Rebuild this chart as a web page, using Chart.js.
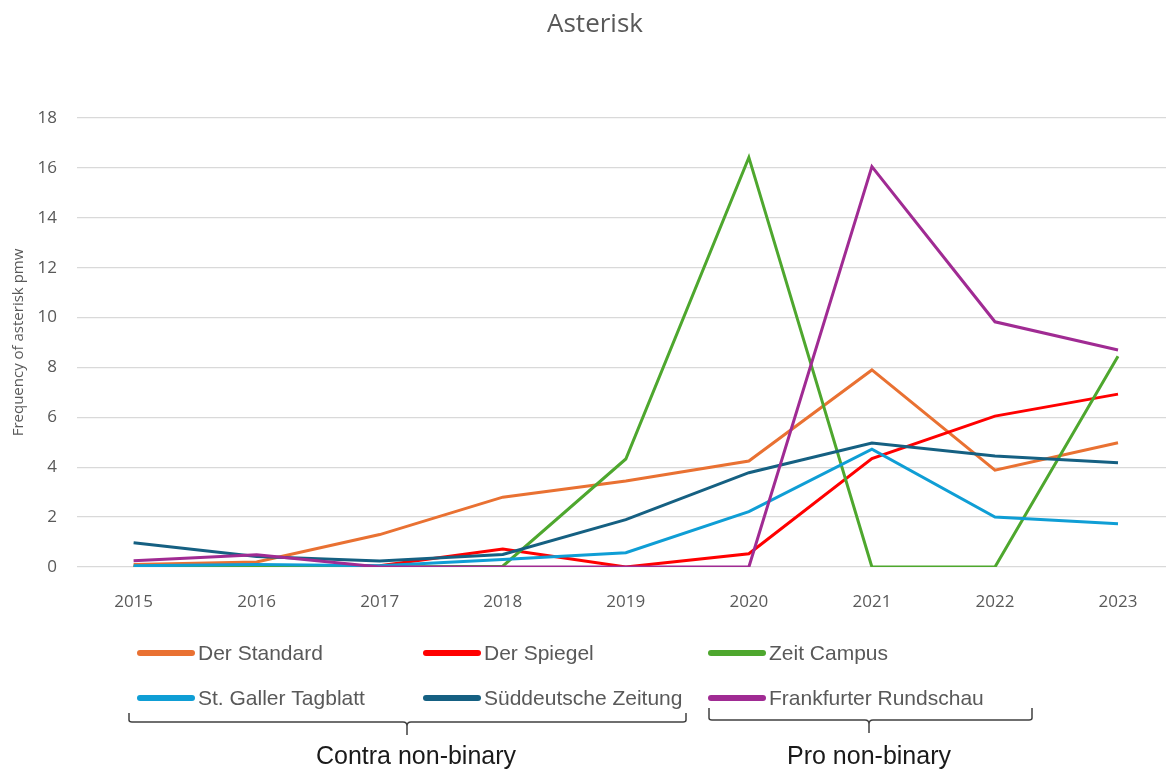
<!DOCTYPE html>
<html>
<head>
<meta charset="utf-8">
<script src="https://cdn.jsdelivr.net/npm/chart.js@4.4.1/dist/chart.umd.min.js"></script>
<style>
    html, body { margin: 0; padding: 0; background: #ffffff; }
    #wrap { width: 1166px; height: 771px; }
</style>
</head>
<body>
<div id="wrap"><canvas id="chart" width="1166" height="771"></canvas></div>
<script>
const years = [2015, 2016, 2017, 2018, 2019, 2020, 2021, 2022, 2023];

const derStandard  = [0.1, 0.2, 1.3, 2.8, 3.45, 4.25, 7.9, 3.88, 4.98];
const derSpiegel   = [0, 0, 0.05, 0.72, 0, 0.53, 4.35, 6.05, 6.93];
const zeitCampus   = [0, 0, 0, 0.03, 4.33, 16.42, 0, 0, 8.45];
const stGaller     = [0.05, 0.1, 0.05, 0.3, 0.57, 2.22, 4.72, 2.0, 1.73];
const sueddeutsche = [0.97, 0.42, 0.24, 0.5, 1.9, 3.78, 4.97, 4.45, 4.18];
const frankfurter  = [0.25, 0.49, 0, 0, 0, 0, 16.05, 9.83, 8.7];

const seriesNames = ['Der Standard', 'Der Spiegel', 'Zeit Campus',
    'St. Galler Tagblatt', 'Süddeutsche Zeitung', 'Frankfurter Rundschau'];
const seriesValues = [derStandard, derSpiegel, zeitCampus, stGaller, sueddeutsche, frankfurter];
const seriesColors = ['#E97132', '#FF0000', '#4EA72E', '#0F9ED5', '#156082', '#A02B93'];

const groupLabels = ['Contra non-binary', 'Pro non-binary'];

const chartTitle = 'Asterisk';
const yAxisTitle = 'Frequency of asterisk pmw';

const textGray = '#595959';

// legend + braces drawn by hand under the plot
const legendAndBraces = {
    id: 'legendAndBraces',
    afterDraw(chart) {
        const ctx = chart.ctx;
        ctx.save();

        ctx.fillStyle = textGray;
        ctx.font = '26px "Open Sans", sans-serif';
        ctx.textAlign = 'center';
        ctx.textBaseline = 'middle';
        ctx.fillText(chartTitle, 595, 25);

        const colX = [137, 423, 708];
        const rowY = [653, 698];
        ctx.font = '21px "Liberation Sans", sans-serif';
        ctx.textAlign = 'left';
        chart.data.datasets.forEach((ds, i) => {
            const x = colX[i % 3];
            const y = rowY[Math.floor(i / 3)];
            ctx.strokeStyle = ds.borderColor;
            ctx.lineWidth = 6;
            ctx.lineCap = 'round';
            ctx.beginPath();
            ctx.moveTo(x + 3, y);
            ctx.lineTo(x + 55, y);
            ctx.stroke();
            ctx.fillStyle = textGray;
            ctx.fillText(ds.label, x + 61, y + 1);
        });

        // curly-ish brackets
        ctx.strokeStyle = '#404040';
        ctx.lineWidth = 1.5;
        ctx.lineCap = 'butt';
        const brace = (x1, x2, mid, top, base) => {
            ctx.beginPath();
            ctx.moveTo(x1, top);
            ctx.lineTo(x1, base - 2);
            ctx.quadraticCurveTo(x1, base, x1 + 3, base);
            ctx.lineTo(mid - 4, base);
            ctx.quadraticCurveTo(mid, base, mid, base + 4);
            ctx.lineTo(mid, base + 13);
            ctx.moveTo(mid, base + 4);
            ctx.quadraticCurveTo(mid, base, mid + 4, base);
            ctx.lineTo(x2 - 3, base);
            ctx.quadraticCurveTo(x2, base, x2, base - 2);
            ctx.lineTo(x2, top);
            ctx.stroke();
        };
        brace(129, 686, 407, 713, 722);
        brace(709, 1032, 869, 708, 720);

        ctx.fillStyle = '#1a1a1a';
        ctx.font = '25px "Liberation Sans", sans-serif';
        ctx.textAlign = 'center';
        ctx.fillText(groupLabels[0], 416, 757);
        ctx.fillText(groupLabels[1], 869, 757);

        ctx.restore();
    }
};

const datasets = seriesNames.map((name, i) => ({
    label: name,
    data: years.map((yr, j) => ({ x: yr, y: seriesValues[i][j] })),
    borderColor: seriesColors[i],
    backgroundColor: seriesColors[i],
    borderWidth: 3,
    pointRadius: 0,
    tension: 0,
    order: seriesNames.length - i
}));

const ctx = document.getElementById('chart').getContext('2d');
new Chart(ctx, {
    type: 'line',
    data: { datasets: datasets },
    options: {
        responsive: false,
        animation: false,
        layout: { padding: { top: 118, right: 0, bottom: 164, left: 0 } },
        plugins: {
            legend: { display: false },
            title: { display: false },
            tooltip: { enabled: false }
        },
        scales: {
            x: {
                type: 'linear',
                min: 2014.54,
                max: 2023.39,
                afterBuildTicks: scale => {
                    scale.ticks = years.map(v => ({ value: v }));
                },
                afterFit: scale => { scale.height = 40; },
                grid: { display: false },
                border: { display: false },
                ticks: {
                    color: textGray,
                    font: { family: 'Open Sans', size: 17 },
                    padding: 17,
                    maxRotation: 0,
                    callback: v => String(v)
                }
            },
            y: {
                min: 0,
                max: 18,
                afterFit: scale => { scale.width = 77; },
                grid: { color: '#D9D9D9', lineWidth: 1.3, drawTicks: false },
                border: { display: false },
                ticks: {
                    stepSize: 2,
                    color: textGray,
                    font: { family: 'Open Sans', size: 17 },
                    padding: 20
                },
                title: {
                    display: true,
                    text: yAxisTitle,
                    color: textGray,
                    font: { family: 'Open Sans', size: 15 },
                    padding: { top: 10, bottom: 0 }
                }
            }
        }
    },
    plugins: [legendAndBraces]
});
</script>
</body>
</html>
